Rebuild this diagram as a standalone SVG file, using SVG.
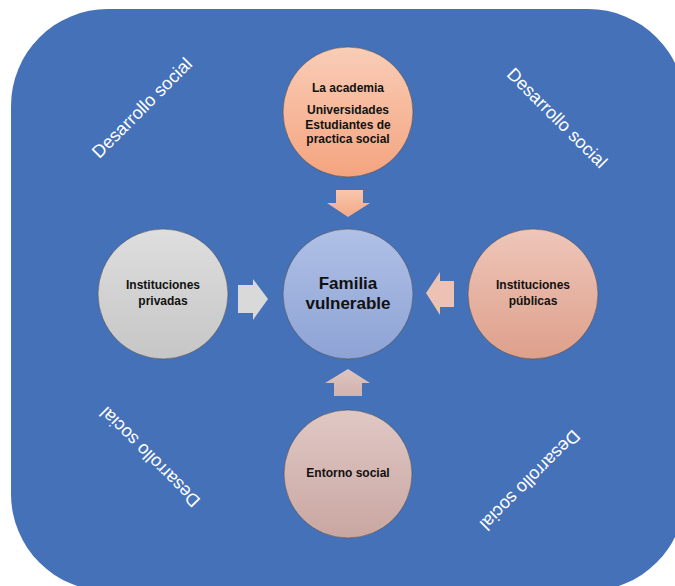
<svg xmlns="http://www.w3.org/2000/svg" width="675" height="586" viewBox="0 0 675 586">
  <defs>
    <linearGradient id="gTop" x1="0" y1="0" x2="0" y2="1">
      <stop offset="0" stop-color="#F9CDB7"/>
      <stop offset="1" stop-color="#F4A47F"/>
    </linearGradient>
    <linearGradient id="gCenter" x1="0" y1="0" x2="0" y2="1">
      <stop offset="0" stop-color="#B0C0E6"/>
      <stop offset="1" stop-color="#8DA3D5"/>
    </linearGradient>
    <linearGradient id="gLeft" x1="0" y1="0" x2="0" y2="1">
      <stop offset="0" stop-color="#DEDEDE"/>
      <stop offset="1" stop-color="#C6C6C6"/>
    </linearGradient>
    <linearGradient id="gRight" x1="0" y1="0" x2="0" y2="1">
      <stop offset="0" stop-color="#EEC6B9"/>
      <stop offset="1" stop-color="#DEA08B"/>
    </linearGradient>
    <linearGradient id="gBottom" x1="0" y1="0" x2="0" y2="1">
      <stop offset="0" stop-color="#E0C8C5"/>
      <stop offset="1" stop-color="#C9A6A1"/>
    </linearGradient>
    <linearGradient id="gArrowTop" x1="0" y1="0" x2="0" y2="1">
      <stop offset="0" stop-color="#F8C6AC"/>
      <stop offset="1" stop-color="#F4A985"/>
    </linearGradient>
    <linearGradient id="gArrowBottom" x1="0" y1="0" x2="0" y2="1">
      <stop offset="0" stop-color="#DEC5C1"/>
      <stop offset="1" stop-color="#D2B2AD"/>
    </linearGradient>
  </defs>
  <style>
    .circle { stroke: #4a4a4a; stroke-width: 0.8; stroke-opacity: 0.7; }
    .label { font-family: "Liberation Sans", Arial, sans-serif; font-weight: bold; fill: #111; text-anchor: middle; }
    .deco { font-family: "Liberation Sans", Arial, sans-serif; font-size: 18px; fill: #ffffff; text-anchor: middle; dominant-baseline: central; }
  </style>

  <rect id="background" x="11" y="9" width="674" height="582" rx="97" ry="97" fill="#4571B9"/>

  <g id="decorations">
    <text class="deco" transform="translate(142,108) rotate(-45)">Desarrollo social</text>
    <text class="deco" transform="translate(557,118) rotate(45)">Desarrollo social</text>
    <text class="deco" transform="translate(150,457) rotate(-135)">Desarrollo social</text>
    <text class="deco" transform="translate(530,480) rotate(135)">Desarrollo social</text>
  </g>

  <g id="connectors">
    <polygon id="arrow-top" points="336,190 363,190 363,203 370,203 348,217 327,203 336,203" fill="url(#gArrowTop)"/>
    <polygon id="arrow-left" points="238,285 253,285 253,279 268,299 253,320 253,313 238,313" fill="#D9D9D9"/>
    <polygon id="arrow-right" points="454,281 440,281 440,272 426,293 440,315 440,307 454,307" fill="#EDC1B3"/>
    <polygon id="arrow-bottom" points="334,396 362,396 362,383 370,383 348,369 325,383 334,383" fill="url(#gArrowBottom)"/>
  </g>

  <g id="node-academia">
    <circle class="circle" cx="348" cy="112" r="65" fill="url(#gTop)"/>
    <text class="label" font-size="12" x="348" y="92">La academia</text>
    <text class="label" font-size="12" x="348" y="114">Universidades</text>
    <text class="label" font-size="12" x="348" y="128.5">Estudiantes de</text>
    <text class="label" font-size="12" x="348" y="143">practica social</text>
  </g>

  <g id="node-familia">
    <circle class="circle" cx="348" cy="294" r="65" fill="url(#gCenter)"/>
    <text class="label" font-size="17" x="348" y="289">Familia</text>
    <text class="label" font-size="17" x="348" y="309">vulnerable</text>
  </g>

  <g id="node-privadas">
    <circle class="circle" cx="163" cy="294" r="65" fill="url(#gLeft)"/>
    <text class="label" font-size="12" x="163" y="289">Instituciones</text>
    <text class="label" font-size="12" x="163" y="305">privadas</text>
  </g>

  <g id="node-publicas">
    <circle class="circle" cx="533" cy="294" r="65" fill="url(#gRight)"/>
    <text class="label" font-size="12" x="533" y="289">Instituciones</text>
    <text class="label" font-size="12" x="533" y="305">públicas</text>
  </g>

  <g id="node-entorno">
    <circle class="circle" cx="348" cy="474" r="64" fill="url(#gBottom)"/>
    <text class="label" font-size="12" x="348" y="477">Entorno social</text>
  </g>
</svg>
